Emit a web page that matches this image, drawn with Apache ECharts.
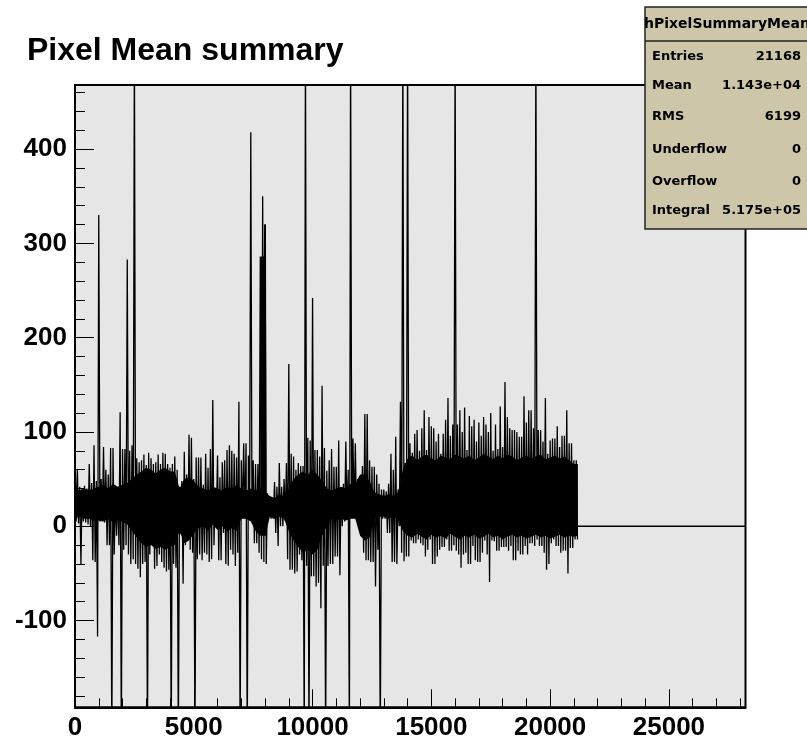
<!DOCTYPE html>
<html>
<head>
<meta charset="utf-8">
<script src="https://cdn.jsdelivr.net/npm/echarts@6/dist/echarts.min.js"></script>
<style>
html,body{margin:0;padding:0;background:#ffffff;}
#chart{width:807px;height:739px;}
</style>
</head>
<body>
<div id="chart"></div>
<script>
// ---- data ----
const segmentSize = 100;          // pixel-index range covered by one envelope value
const entriesEnd = 21168;         // last filled bin
const xAxisMax = 28224;
const yAxisMin = -192;
const yAxisMax = 468;
const xTickInterval = 5000;

// upper envelope of the histogram per segment (off-scale spikes above 468 given as 520)
const upperEnvelope = [
  82, 60, 42, 40, 43, 40, 66, 46, 86, 48,
  330, 50, 84, 60, 55, 83, 83, 35, 38, 121,
  82, 82, 283, 80, 86, 520, 72, 68, 70, 76,
  65, 78, 72, 66, 68, 76, 66, 78, 77, 66,
  62, 66, 74, 60, 42, 48, 79, 55, 97, 94,
  50, 73, 73, 73, 44, 77, 62, 82, 134, 40,
  75, 52, 68, 70, 81, 86, 80, 77, 73, 132,
  70, 88, 88, 75, 418, 70, 66, 66, 286, 350,
  320, 35, 30, 30, 47, 42, 67, 42, 50, 67,
  172, 77, 74, 60, 67, 64, 64, 520, 94, 91,
  242, 81, 81, 74, 149, 83, 59, 70, 82, 63,
  63, 91, 39, 45, 90, 60, 520, 93, 88, 50,
  50, 64, 119, 119, 70, 63, 63, 55, 45, 39,
  39, 37, 45, 77, 60, 95, 39, 132, 520, 67,
  520, 88, 78, 98, 102, 80, 104, 123, 81, 116,
  106, 104, 90, 98, 77, 98, 113, 136, 96, 108,
  520, 108, 123, 100, 126, 81, 117, 106, 113, 90,
  110, 96, 116, 108, 100, 120, 80, 108, 82, 127,
  84, 153, 116, 104, 102, 102, 100, 95, 95, 138,
  110, 123, 123, 104, 520, 102, 102, 90, 136, 77,
  91, 93, 93, 106, 84, 96, 96, 123, 88, 88,
  70, 70
];

// lower envelope per segment (off-scale spikes below -192 given as -230)
const lowerEnvelope = [
  5, 3, -40, 5, 4, 2, 0, -36, -38, -117,
  5, 5, 4, -20, -20, -230, -30, -10, -20, -230,
  -25, -20, -30, -40, -35, -40, -45, -54, -40, -38,
  -230, -30, -14, -45, -42, -30, -38, -44, -48, -46,
  -230, -40, -44, -230, -8, -61, -20, -10, -25, -28,
  -230, -35, -30, -36, -28, -30, -38, -35, -20, 8,
  -36, -36, -7, -40, -42, -25, -30, -42, -28, -230,
  8, 8, -230, 8, 8, -18, -18, -28, -35, -38,
  -40, 10, 8, 8, -7, -21, 0, 0, 6, -35,
  -46, -46, -50, -48, -30, -36, -230, -42, -230, -53,
  -53, -64, -60, -87, -42, -230, -42, -40, -40, -32,
  -32, -52, 0, 5, 7, -230, 10, 10, 8, 8,
  -7, -28, -36, -36, -38, -38, -64, -25, -230, 8,
  8, -7, -7, -38, -38, -40, 0, -28, -37, -32,
  -32, -15, -18, -18, -14, -18, -20, -32, -25, -14,
  -40, -40, -32, -25, -22, -22, -14, -26, -26, -20,
  -26, -30, -44, -30, -28, -40, -40, -21, -36, -38,
  -38, -28, -15, -30, -59, -15, -16, -26, -26, -22,
  -22, -22, -26, -21, -36, -36, -26, -30, -30, -21,
  -30, -18, -18, -21, -14, -21, -21, -28, -46, -40,
  -18, -14, -21, -21, -28, -26, -26, -50, -23, -23,
  -14, -14
];

// solid core of the band: bin positions and its top / bottom values
const coreIdx = [
  0, 200, 400, 600, 800,
  1000, 1200, 1400, 1600, 1800, 2000, 2200,
  2400, 2600,
  2800, 3000, 3200, 3400, 3600, 3800, 4000, 4200, 4400, 4600, 4800,
  5000, 5200,
  5400, 5600, 5800, 6000, 6200, 6400, 6600, 6800, 7000, 7200, 7400,
  7600, 7800, 7830, 7950, 7960, 8040, 8060,
  8200, 8400, 8600, 8800,
  9000, 9200,
  9400, 9600, 9800, 10000, 10200,
  10400, 10600,
  10800, 11000, 11200, 11400,
  11600, 11800, 12000, 12200, 12400,
  12600, 12800, 13000, 13200, 13400, 13600,
  13800,
  14000, 14200, 14400, 14600, 14800, 15000, 15200, 15400, 15600, 15800,
  16000, 16200, 16400, 16600, 16800, 17000, 17200, 17400, 17600, 17800,
  18000, 18200, 18400, 18600, 18800, 19000, 19200, 19400, 19600, 19800,
  20000, 20200, 20400, 20600, 20800, 21000,
  21168
];
const coreHi = [
  40, 38, 40, 38, 40,
  42, 44, 40, 45, 42, 44, 46,
  50, 55,
  58, 62, 60, 56, 60, 62, 58, 58, 40, 50, 52,
  48, 42,
  40, 38, 42, 40, 38, 42, 40, 44, 40, 38, 40,
  38, 40, 286, 286, 320, 320, 35,
  32, 30, 34, 32,
  40, 50,
  55, 58, 55, 60, 55,
  48, 40,
  38, 40, 42, 40,
  45, 45, 55, 55, 48,
  36, 34, 32, 34, 32, 36,
  60,
  72, 75, 70, 74, 76, 72, 70, 75, 73, 71,
  76, 74, 72, 75, 70, 73, 77, 74, 71, 75,
  72, 76, 74, 70, 73, 75, 72, 74, 76, 71,
  73, 75, 72, 74, 70, 66,
  66
];
const coreLo = [
  8, 10, 8, 8, 6,
  6, 5, 8, 4, 6, 5, 2,
  -5, -12,
  -18, -22, -20, -24, -22, -25, -22, -20, -5, -18, -15,
  -8, -2,
  0, -5, 2, -4, 0, -6, -2, -5, 8, 8, 5,
  -5, -10, -10, -10, -10, -10, -5,
  10, 8, 10, 8,
  -5, -15,
  -22, -28, -25, -30, -25,
  -10, 0,
  8, 6, 8, 6,
  8, 8, -10, -15, -12,
  8, 10, 10, 8, 10, 6,
  -5,
  -10, -12, -8, -11, -14, -9, -12, -10, -13, -8,
  -11, -14, -10, -12, -9, -13, -11, -8, -12, -10,
  -14, -11, -9, -12, -10, -13, -11, -9, -12, -10,
  -13, -11, -9, -12, -10, -11,
  -10
];

const titleText = 'Pixel Mean summary';
const statsTitle = 'hPixelSummaryMean';
const statsLabels = ['Entries', 'Mean', 'RMS', 'Underflow', 'Overflow', 'Integral'];
const statsValues = ['21168', '1.143e+04', '6199', '0', '0', '5.175e+05'];

// ---- build ----
const zigzag = [];
for (let i = 0; i < upperEnvelope.length; i++) {
  zigzag.push([i * segmentSize, upperEnvelope[i]]);
  zigzag.push([i * segmentSize + segmentSize / 2, lowerEnvelope[i]]);
}

const statsRowY = [57, 86, 117, 150, 182, 211];
const graphics = [
  {type: 'rect', z: 100, shape: {x: 645, y: 7, width: 200, height: 222},
   style: {fill: '#cdc6a9', stroke: '#222', lineWidth: 1.5}},
  {type: 'line', z: 101, shape: {x1: 645, y1: 41, x2: 807, y2: 41},
   style: {stroke: '#222', lineWidth: 1.5}},
  {type: 'text', z: 102, x: 727, y: 24,
   style: {text: statsTitle, font: 'bold 14px "DejaVu Sans"', fill: '#000',
           textAlign: 'center', textVerticalAlign: 'middle'}}
];
statsLabels.forEach((lab, k) => {
  graphics.push({type: 'text', z: 102, x: 652, y: statsRowY[k],
    style: {text: lab, font: 'bold 13px "DejaVu Sans"', fill: '#000', textAlign: 'left', textVerticalAlign: 'middle'}});
  graphics.push({type: 'text', z: 102, x: 801, y: statsRowY[k],
    style: {text: statsValues[k], font: 'bold 13px "DejaVu Sans"', fill: '#000', textAlign: 'right', textVerticalAlign: 'middle'}});
});

const chart = echarts.init(document.getElementById('chart'), null, {renderer: 'canvas'});
const labelFont = {fontFamily: '"Liberation Sans", Arial, sans-serif', fontWeight: 'bold', fontSize: 26, color: '#000'};

chart.setOption({
  animation: false,
  backgroundColor: '#ffffff',
  title: {
    text: titleText, left: 22, top: 30,
    textStyle: {fontFamily: '"Liberation Sans", Arial, sans-serif', fontWeight: 'bold', fontSize: 32, color: '#000'}
  },
  grid: {
    left: 75, top: 85, right: 61.5, bottom: 31.7,
    show: true, backgroundColor: '#e6e6e6', borderColor: '#000', borderWidth: 2,
    outerBoundsMode: 'none'
  },
  xAxis: {
    type: 'value', min: 0, max: xAxisMax, interval: xTickInterval, z: 10,
    axisLine: {show: true, onZero: false, lineStyle: {color: '#000', width: 2}},
    axisTick: {show: true, inside: true, length: 18, lineStyle: {color: '#000', width: 1}},
    minorTick: {show: true, splitNumber: 5, length: 9, lineStyle: {color: '#000', width: 1}},
    splitLine: {show: false},
    axisLabel: Object.assign({margin: 8, showMaxLabel: false, formatter: v => String(v)}, labelFont)
  },
  yAxis: {
    type: 'value', min: yAxisMin, max: yAxisMax, splitNumber: 7, z: 10,
    axisLine: {show: true, lineStyle: {color: '#000', width: 2}},
    axisTick: {show: true, inside: true, length: 19, lineStyle: {color: '#000', width: 1}},
    minorTick: {show: true, splitNumber: 5, length: 10, lineStyle: {color: '#000', width: 1}},
    splitLine: {show: false},
    axisLabel: Object.assign({margin: 8, showMinLabel: false, showMaxLabel: false, formatter: v => String(v)}, labelFont)
  },
  series: [
    {
      type: 'custom', silent: true, clip: true,
      data: [[coreIdx[0], coreLo[0]]],
      encode: {x: 0, y: 1},
      renderItem: function (params, api) {
        const pts = [];
        for (let k = 0; k < coreIdx.length; k++) pts.push(api.coord([coreIdx[k], coreHi[k]]));
        for (let k = coreIdx.length - 1; k >= 0; k--) pts.push(api.coord([coreIdx[k], coreLo[k]]));
        return {type: 'polygon', shape: {points: pts}, style: {fill: '#000'}};
      }
    },
    {type: 'line', data: zigzag, symbol: 'none', silent: true, clip: true,
     lineStyle: {color: '#000', width: 1.3}},
    {type: 'line', data: [[entriesEnd, 0], [xAxisMax, 0]], symbol: 'none', silent: true,
     lineStyle: {color: '#000', width: 1.5}}
  ],
  graphic: graphics
});
</script>
</body>
</html>
